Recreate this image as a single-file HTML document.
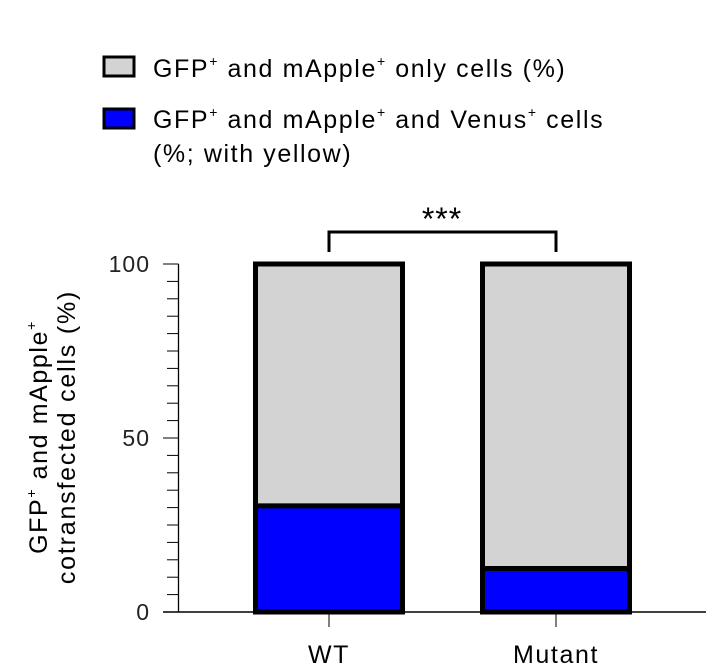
<!DOCTYPE html>
<html><head><meta charset="utf-8"><style>
body{margin:0;background:#fff;}
svg{display:block;font-family:"Liberation Sans",sans-serif;}
</style></head><body>
<svg width="706" height="672" viewBox="0 0 706 672">
<g>
<rect x="104" y="57" width="30" height="19" fill="#d3d3d3" stroke="#000" stroke-width="3"/>
<text x="153" y="77" font-size="25" letter-spacing="1.6">GFP<tspan font-size="14" dy="-11">+</tspan><tspan dy="11"> and mApple</tspan><tspan font-size="14" dy="-11">+</tspan><tspan dy="11"> only cells (%)</tspan></text>
<rect x="104" y="109" width="30" height="19" fill="#0000ff" stroke="#000" stroke-width="3"/>
<text x="153" y="128" font-size="25" letter-spacing="1.6">GFP<tspan font-size="14" dy="-11">+</tspan><tspan dy="11"> and mApple</tspan><tspan font-size="14" dy="-11">+</tspan><tspan dy="11"> and Venus</tspan><tspan font-size="14" dy="-11">+</tspan><tspan dy="11"> cells</tspan></text>
<text x="153" y="162" font-size="25" letter-spacing="1.6">(%; with yellow)</text>
</g>
<g id="axes"></g>
<g id="bars"></g>
<g>
<path d="M329 252 V232 H556 V252" fill="none" stroke="#000" stroke-width="3"/>
<text x="442" y="230" font-size="32" letter-spacing="1" text-anchor="middle">***</text>
</g>
<text transform="translate(47 437) rotate(-90)" font-size="25" letter-spacing="1.6" text-anchor="middle">GFP<tspan font-size="14" dy="-11">+</tspan><tspan dy="11"> and mApple</tspan><tspan font-size="14" dy="-11">+</tspan><tspan dy="11"></tspan></text>
<text transform="translate(75 437) rotate(-90)" font-size="25" letter-spacing="1.8" text-anchor="middle">cotransfected cells (%)</text>
</svg>
<script>
const categories=["WT","Mutant"];
const blueValues=[30.5,12.5];
const totalValues=[100,100];
const yTicks=[0,50,100];
const NS="http://www.w3.org/2000/svg";
const y0=612,y100=264,axX=178.5;
function yS(v){return y0-(y0-y100)*v/100;}
function xS(i){return 329+i*227;}
function mk(t,a,p){const e=document.createElementNS(NS,t);for(const k in a)e.setAttribute(k,a[k]);p.appendChild(e);return e;}
const axes=document.getElementById('axes'),bars=document.getElementById('bars');
const yl=mk('line',{x1:axX,x2:axX,y1:yS(100),y2:y0,stroke:'#000','stroke-width':1.3},axes);


const xl=mk('line',{x1:163,x2:706,y1:y0,y2:y0,stroke:'#000','stroke-width':1.5},axes);


for(let v=0;v<=100;v+=5){
  const major=yTicks.includes(v);
  const t=mk('line',{x1:major?163:167,x2:axX,y1:yS(v),y2:yS(v),stroke:'#000','stroke-width':1},axes);
  
  
}
yTicks.forEach(v=>{
  const t=mk('text',{x:150,y:yS(v)+8,'font-size':23,'letter-spacing':1,'text-anchor':'end',fill:'#222'},axes);
  t.textContent=v;
  
  
});
categories.forEach((c,i)=>{
  const cx=xS(i),w=147;
  const g=mk('rect',{x:cx-w/2,y:yS(totalValues[i]),width:w,height:yS(0)-yS(totalValues[i]),fill:'#d3d3d3',stroke:'#000','stroke-width':5},bars);
  
  
  const b=mk('rect',{x:cx-w/2,y:yS(blueValues[i]),width:w,height:yS(0)-yS(blueValues[i]),fill:'#0000ff',stroke:'#000','stroke-width':5},bars);
  
  
  const t=mk('line',{x1:cx,x2:cx,y1:y0,y2:627,stroke:'#000','stroke-width':1},axes);
  
  
  const l=mk('text',{x:cx,y:663,'font-size':25,'letter-spacing':1.6,'text-anchor':'middle'},axes);
  l.textContent=c;
  
  
});
</script>
</body></html>
